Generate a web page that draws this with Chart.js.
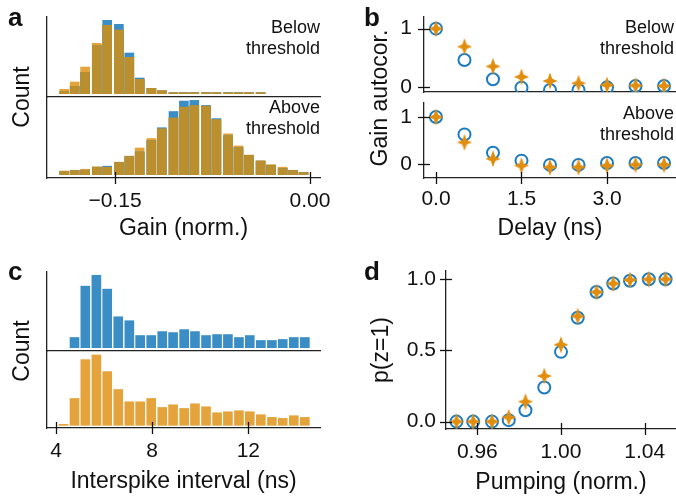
<!DOCTYPE html>
<html>
<head>
<meta charset="utf-8">
<script src="https://cdn.jsdelivr.net/npm/chart.js@4.4.1/dist/chart.umd.min.js"></script>
<style>
html,body{margin:0;padding:0;background:#fff}
#fig{position:relative;width:676px;height:498px;overflow:hidden;font-family:'Liberation Sans',Arial,Helvetica,sans-serif;color:#111}
#fig canvas{position:absolute;left:0;top:0}
.lab{position:absolute;font-size:26px;font-weight:bold;line-height:26px}
.note{position:absolute;font-size:18px;line-height:21px;text-align:right;white-space:nowrap}
.ytl{position:absolute;font-size:23px;white-space:nowrap;line-height:26px;transform:translate(-50%,-50%) rotate(-90deg)}
</style>
</head>
<body>
<div id="fig">
  <canvas id="cAtop" width="676" height="498"></canvas>
  <canvas id="cAbot" width="676" height="498"></canvas>
  <canvas id="cBtop" width="676" height="498"></canvas>
  <canvas id="cBbot" width="676" height="498"></canvas>
  <canvas id="cCtop" width="676" height="498"></canvas>
  <canvas id="cCbot" width="676" height="498"></canvas>
  <canvas id="cD" width="676" height="498"></canvas>

  <div class="lab" style="left:8px;top:4px">a</div>
  <div class="lab" style="left:364px;top:4px">b</div>
  <div class="lab" style="left:8px;top:258px">c</div>
  <div class="lab" style="left:364px;top:258px">d</div>

  <div class="note" style="right:356px;top:17px">Below<br>threshold</div>
  <div class="note" style="right:356px;top:97px">Above<br>threshold</div>
  <div class="note" style="right:2px;top:17px">Below<br>threshold</div>
  <div class="note" style="right:2px;top:103px">Above<br>threshold</div>

  <div class="ytl" style="left:21px;top:97px">Count</div>
  <div class="ytl" style="left:21px;top:351px">Count</div>
  <div class="ytl" style="left:379px;top:98px">Gain autocor.</div>
</div>

<script>
/* ── figure size / styles ─────────────────────────────────── */
const W = 676, H = 498;
const FONT = "'Liberation Sans', Arial, Helvetica, sans-serif";
const INK = '#111';
const BLUE = '#3A8EC5', ORANGE = '#E4A43B', OLIVE = '#BB8F2D';   // histograms
const M_BLUE = '#1B7BBF', M_ORANGE = '#E18D0E';                   // markers

/* ── (a) gain histograms, counts in arbitrary units ───────── */
const GAIN_BINS = [-0.189,-0.181,-0.173,-0.164,-0.156,-0.147,-0.139,-0.131,-0.122,-0.114,-0.105,-0.097,
                   -0.089,-0.080,-0.072,-0.063,-0.055,-0.047,-0.038,-0.030,-0.021,-0.013,-0.005];
const GAIN_TICKS = [-0.15, 0.00];
const BELOW_BLUE   = [7,22,64,145,220,208,122,47,16,8,3,3,3,3,3,3,3,3,3,null,null,null,null];
const BELOW_ORANGE = [13,35,80,151,205,191,109,43,16,10,3,3,3,3,3,3,3,3,3,null,null,null,null];
const ABOVE_BLUE   = [10,12,13,22,25,36,53,67,101,139,187,218,220,205,166,115,80,57,40,28,18,12,6];
const ABOVE_ORANGE = [10,13,16,23,22,37,55,79,107,136,168,200,205,203,163,121,85,58,41,29,22,13,7];

/* ── (b) gain autocorrelation ─────────────────────────────── */
const DELAY = [0, 0.5, 1.0, 1.5, 2.0, 2.5, 3.0, 3.5, 4.0];
const DELAY_TICKS = [0, 1.5, 3.0];
const AC_TICKS = [0, 1];
const AC_BELOW_CIRC = [1.0, 0.46, 0.13, -0.015, -0.055, -0.055, -0.01, 0.014, 0.014];
const AC_BELOW_STAR = [1.0, 0.69, 0.35, 0.17, 0.10, 0.06, 0.03, 0.02, 0.014];
const AC_ABOVE_CIRC = [1.0, 0.63, 0.24, 0.07, -0.02, -0.02, 0.02, 0.02, 0.02];
const AC_ABOVE_STAR = [1.0, 0.46, 0.11, -0.036, -0.07, -0.07, -0.036, -0.015, -0.015];

/* ── (c) interspike interval histograms ───────────────────── */
const ISI_BINS = [4.31,4.77,5.22,5.68,6.13,6.59,7.05,7.50,7.96,8.42,8.87,9.33,
                  9.78,10.24,10.70,11.15,11.61,12.06,12.52,12.98,13.43,13.89,14.35];
const ISI_TICKS = [4, 8, 12];
const ISI_BLUE   = [null,31,187,220,178,94,82,37,37,49,46,55,49,37,40,40,31,37,22,22,25,31,31];
const ISI_ORANGE = [3,81,198,212,162,108,71,71,81,54,62,51,65,56,38,41,44,41,32,24,21,29,24];

/* ── (d) p(z=1) vs pumping ────────────────────────────────── */
const PUMP = [0.950,0.958,0.967,0.975,0.983,0.992,1.000,1.008,1.017,1.025,1.033,1.042,1.050];
const PUMP_TICKS = [0.96, 1.00, 1.04];
const P_TICKS = [0, 0.5, 1.0];
const P_CIRC = [0, 0, 0, 0.01, 0.08, 0.24, 0.49, 0.73, 0.91, 0.97, 0.99, 1.0, 1.0];
const P_STAR = [0, 0, 0, 0.03, 0.14, 0.32, 0.54, 0.74, 0.91, 0.97, 0.995, 1.0, 1.0];

/* ── ticks crossing the spine (in + out) ──────────────────── */
Chart.register({
  id:'inoutTicks',
  defaults:{inner:6, outer:6},
  afterDraw(chart, args, opts){
    const {ctx, chartArea:a} = chart;
    ctx.save();
    ctx.strokeStyle = INK; ctx.lineWidth = 1.3;
    Object.values(chart.scales).forEach(s=>{
      if(!s.options.ticks.display) return;
      s.ticks.forEach(t=>{
        const p = Math.round(s.getPixelForValue(t.value)) + 0.5;
        ctx.beginPath();
        if(s.isHorizontal()){ ctx.moveTo(p, a.bottom - opts.inner); ctx.lineTo(p, a.bottom + opts.outer); }
        else { ctx.moveTo(a.left - opts.outer, p); ctx.lineTo(a.left + opts.inner, p); }
        ctx.stroke();
      });
    });
    ctx.restore();
  }
});

function fmt(dec){ return v => (v < 0 ? '\u2212' : '') + Math.abs(v).toFixed(dec); }

function axis(o){
  return {
    type:'linear', min:o.min, max:o.max, bounds:'data', offset:false,
    grid:{display:false, drawTicks:false},
    border:{display:true, color:'#222', width:1.3},
    ticks:{display:!!o.ticks, padding:o.pad||0, color:INK, font:{family:FONT,size:21},
           maxRotation:0, autoSkip:false, callback:o.fmt},
    afterBuildTicks: s => { if(o.ticks) s.ticks = o.ticks.map(v=>({value:v})); },
    title:{display:!!o.title, text:o.title||'', color:INK, font:{family:FONT,size:23}, padding:o.tpad||0},
    afterFit: s => {
      if(s.isHorizontal()) s.height = o.size||0; else s.width = o.size||0;
      s.paddingLeft = s.paddingRight = s.paddingTop = s.paddingBottom = 0;
    }
  };
}

// box = [left, top, right, bottom] of the plot area in page pixels
function mkChart(id, box, type, datasets, xo, yo){
  new Chart(document.getElementById(id), {
    type, data:{datasets},
    options:{
      responsive:false, animation:false, events:[],
      layout:{autoPadding:false, padding:{left:box[0]-(yo.size||0), top:box[1], right:W-box[2], bottom:H-box[3]-(xo.size||0)}},
      plugins:{legend:{display:false}, tooltip:{enabled:false}},
      scales:{x:axis(xo), y:axis(yo)}
    }
  });
}

function bars(bins, vals, color){
  return {data:bins.map((x,i)=>({x, y:vals[i]})), backgroundColor:color, borderWidth:0, barThickness:9, grouped:false};
}
// overlap of two histograms drawn on top in a darker tone
function overlap(bins, a, b){
  return bars(bins, a.map((v,i)=> v==null || b[i]==null ? null : Math.min(v, b[i])), OLIVE);
}

function starMarker(){
  const c = document.createElement('canvas');
  c.width = 16; c.height = 18;
  const g = c.getContext('2d');
  g.fillStyle = M_ORANGE;
  g.beginPath();
  for(let k=0;k<8;k++){
    const ang = -Math.PI/2 + k*Math.PI/4;
    const rx = k%2 ? 3.2 : 7.6, ry = k%2 ? 3.2 : 8.6;
    const px = 8 + rx*Math.cos(ang), py = 9 + ry*Math.sin(ang);
    k ? g.lineTo(px,py) : g.moveTo(px,py);
  }
  g.closePath(); g.fill();
  return c;
}
const STAR = starMarker();

function markers(xs, circ, star){
  return [
    {data:xs.map((x,i)=>({x, y:star[i]})), pointStyle:STAR, pointRadius:8, clip:0},
    {data:xs.map((x,i)=>({x, y:circ[i]})), pointStyle:'circle', pointRadius:6, borderWidth:2,
     borderColor:M_BLUE, backgroundColor:'rgba(0,0,0,0)', clip:0}
  ];
}

/* ── (a) ── */
const A_X = {min:-0.2023, max:0.0077};
mkChart('cAtop', [47,17,320,97], 'bar',
  [overlap(GAIN_BINS, BELOW_BLUE, BELOW_ORANGE), bars(GAIN_BINS, BELOW_BLUE, BLUE), bars(GAIN_BINS, BELOW_ORANGE, ORANGE)],
  {...A_X}, {min:-10, max:230});
mkChart('cAbot', [47,97,320,178], 'bar',
  [overlap(GAIN_BINS, ABOVE_BLUE, ABOVE_ORANGE), bars(GAIN_BINS, ABOVE_BLUE, BLUE), bars(GAIN_BINS, ABOVE_ORANGE, ORANGE)],
  {...A_X, ticks:GAIN_TICKS, fmt:fmt(2), pad:11, title:'Gain (norm.)', size:64}, {min:-10, max:230});

/* ── (b) ── */
const B_X = {min:-0.21, max:4.21};
mkChart('cBtop', [424,17,676,92], 'scatter', markers(DELAY, AC_BELOW_CIRC, AC_BELOW_STAR),
  {...B_X}, {min:-0.09, max:1.2, ticks:AC_TICKS, fmt:fmt(0), pad:12, size:40});
mkChart('cBbot', [424,103,676,178], 'scatter', markers(DELAY, AC_ABOVE_CIRC, AC_ABOVE_STAR),
  {...B_X, ticks:DELAY_TICKS, fmt:fmt(1), pad:9, title:'Delay (ns)', size:64},
  {min:-0.3, max:1.3, ticks:AC_TICKS, fmt:fmt(0), pad:12, size:40});

/* ── (c) ── */
const C_X = {min:3.626, max:14.98};
mkChart('cCtop', [47,272,320,351], 'bar', [bars(ISI_BINS, ISI_BLUE, BLUE)],
  {...C_X}, {min:-10, max:230});
mkChart('cCbot', [47,351,320,428], 'bar', [bars(ISI_BINS, ISI_ORANGE, ORANGE)],
  {...C_X, ticks:ISI_TICKS, fmt:fmt(0), pad:11, title:'Interspike interval (ns)', size:67}, {min:-8, max:224});

/* ── (d) ── */
mkChart('cD', [446,271,676,429], 'scatter', markers(PUMP, P_CIRC, P_STAR),
  {min:0.945, max:1.055, ticks:PUMP_TICKS, fmt:fmt(2), pad:11, title:'Pumping (norm.)', size:67},
  {min:-0.052, max:1.058, ticks:P_TICKS, fmt:fmt(1), pad:10, title:'p(z=1)', tpad:2, size:80});
</script>
</body>
</html>
